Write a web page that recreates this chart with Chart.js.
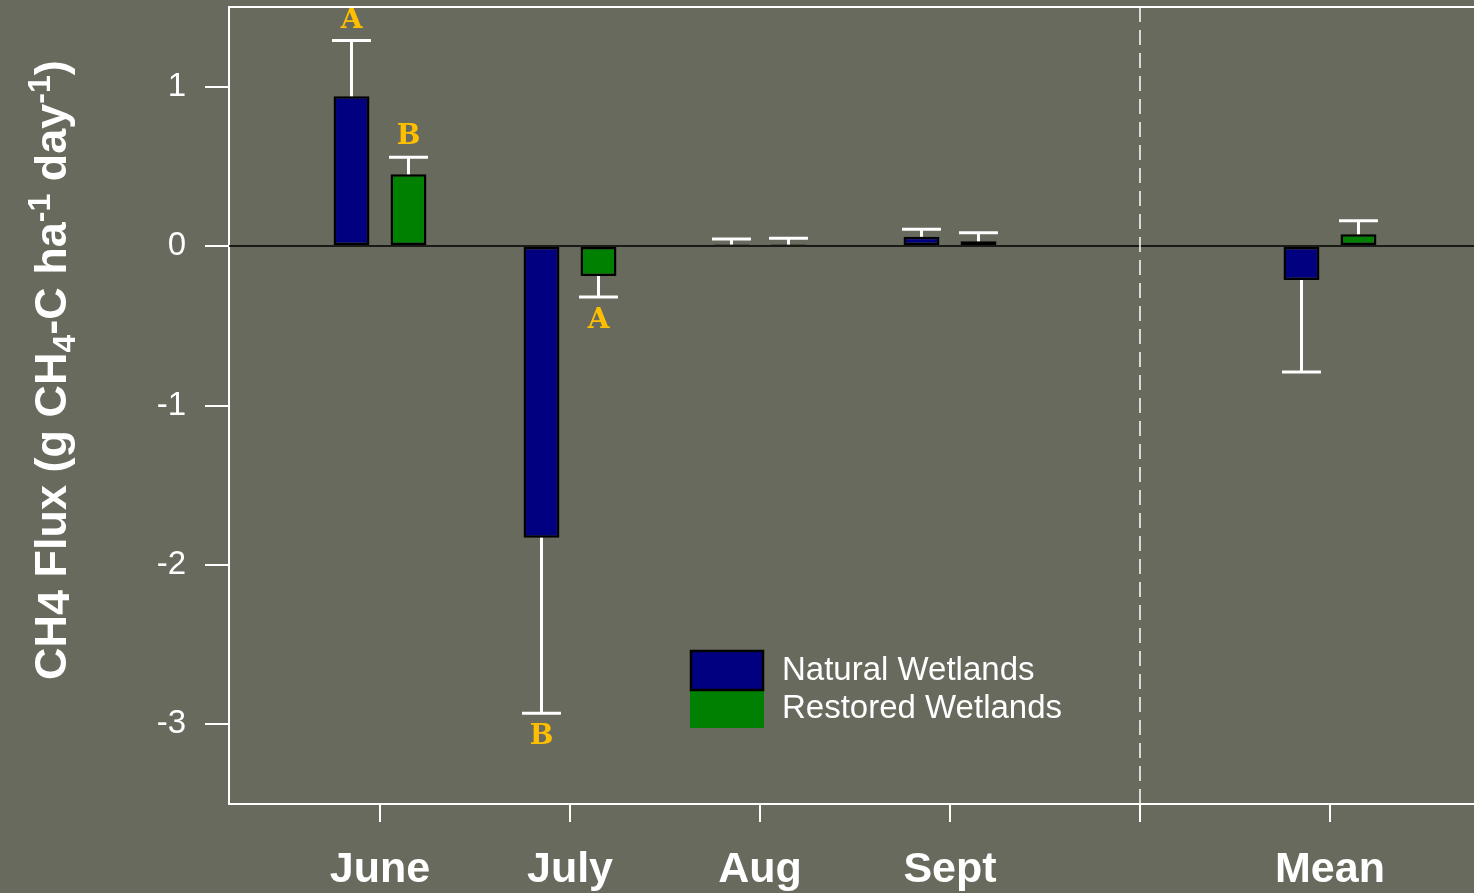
<!DOCTYPE html>
<html>
<head>
<meta charset="utf-8">
<script src="https://cdn.jsdelivr.net/npm/chart.js@4.4.1/dist/chart.umd.min.js"></script>
<style>
  html, body { margin: 0; padding: 0; background: #676a5c; overflow: hidden; }
  #wrap { width: 1474px; height: 893px; }
</style>
</head>
<body>
<div id="wrap"><canvas id="fluxchart" width="1474" height="893"></canvas></div>
<script>
// CH4 flux per month, natural vs restored wetlands
const categories = ['June', 'July', 'Aug', 'Sept', 'Mean'];
const catPositions = [1, 2, 3, 4, 6];   // slot 5 stays empty (dashed divider)
const naturalFlux = [0.94, -1.83, 0.01, 0.058, -0.213];
const naturalErr = [0.35, 1.10, 0.035, 0.047, 0.577];
const restoredFlux = [0.451, -0.188, 0.01, 0.031, 0.075];
const restoredErr = [0.107, 0.132, 0.04, 0.052, 0.084];
const naturalLetters = ['A', 'B', '', '', ''];
const restoredLetters = ['B', 'A', '', '', ''];
const yTicks = [-3, -2, -1, 0, 1];
const xTicks = [1, 2, 3, 4, 5, 6];

const NAVY = '#000080';
const GREEN = '#008000';
const GOLD = '#ffbf00';

function toPoints(vals) {
    return vals.map((v, i) => ({ x: catPositions[i], y: v }));
}

// whiskers go away from zero only, with a flat cap
const errorBars = {
    id: 'errorBars',
    beforeDatasetsDraw(chart) {
        const { ctx, chartArea, scales } = chart;
        const y0 = scales.y.getPixelForValue(0);
        ctx.save();
        ctx.strokeStyle = '#000';
        ctx.lineWidth = 1.5;
        ctx.beginPath();
        ctx.moveTo(chartArea.left, y0);
        ctx.lineTo(chartArea.right, y0);
        ctx.stroke();
        // dashed divider before the mean
        const xd = scales.x.getPixelForValue(5);
        ctx.strokeStyle = '#fff';
        ctx.setLineDash([15, 8]);
        ctx.beginPath();
        ctx.moveTo(xd, chartArea.top);
        ctx.lineTo(xd, chartArea.bottom);
        ctx.stroke();
        ctx.restore();
    },
    afterDatasetsDraw(chart) {
        const { ctx, scales } = chart;
        ctx.save();
        chart.data.datasets.forEach((ds, di) => {
            const meta = chart.getDatasetMeta(di);
            meta.data.forEach((bar, i) => {
                const v = ds.data[i].y;
                const sign = v < 0 ? -1 : 1;
                const yEnd = scales.y.getPixelForValue(v + sign * ds.errors[i]);
                const half = bar.width / 2 + 1.5;
                ctx.strokeStyle = '#fff';
                ctx.lineWidth = 3;
                ctx.beginPath();
                ctx.moveTo(bar.x, bar.y);
                ctx.lineTo(bar.x, yEnd);
                ctx.moveTo(bar.x - half, yEnd);
                ctx.lineTo(bar.x + half, yEnd);
                ctx.stroke();
                const letter = ds.letters[i];
                if (letter) {
                    ctx.fillStyle = GOLD;
                    ctx.font = 'bold 28px "DejaVu Serif", serif';
                    ctx.textAlign = 'center';
                    ctx.textBaseline = 'middle';
                    ctx.fillText(letter, bar.x, yEnd - sign * (sign > 0 ? 20 : 24));
                }
            });
        });
        ctx.restore();
    },
    afterDraw(chart) {
        const { ctx, chartArea } = chart;
        ctx.save();
        // top frame line
        ctx.strokeStyle = '#fff';
        ctx.lineWidth = 2;
        ctx.beginPath();
        ctx.moveTo(chartArea.left, chartArea.top);
        ctx.lineTo(chartArea.right, chartArea.top);
        ctx.stroke();

        // legend
        const lx = 690, ly = 650;
        const sets = chart.data.datasets;
        ctx.fillStyle = sets[1].backgroundColor;
        ctx.fillRect(lx, ly + 40, 74, 38);
        ctx.fillStyle = sets[0].backgroundColor;
        ctx.fillRect(lx, ly, 74, 40);
        ctx.strokeStyle = '#000';
        ctx.lineWidth = 2.5;
        ctx.strokeRect(lx + 1, ly + 1, 72, 39);
        ctx.fillStyle = '#fff';
        ctx.font = '33px "Liberation Sans", Arial, sans-serif';
        ctx.textAlign = 'left';
        ctx.textBaseline = 'middle';
        ctx.fillText(sets[0].label, 782, ly + 21);
        ctx.fillText(sets[1].label, 782, ly + 59);

        // y axis title with sub/superscripts
        const parts = [
            { t: 'CH', s: 1, dy: 0 },
            { t: '4', s: 1, dy: 3 },
            { t: ' Flux (g CH', s: 1, dy: 0 },
            { t: '4', s: 0.72, dy: 9 },
            { t: '-C ha', s: 1, dy: 0 },
            { t: '-1', s: 0.72, dy: -16 },
            { t: ' day', s: 1, dy: 0 },
            { t: '-1', s: 0.72, dy: -16 },
            { t: ')', s: 1, dy: 0 }
        ];
        const fs = 45;
        ctx.translate(66, 680);
        ctx.rotate(-Math.PI / 2);
        ctx.textBaseline = 'alphabetic';
        let x = 0;
        parts.forEach(p => {
            ctx.font = 'bold ' + Math.round(fs * p.s) + 'px "Liberation Sans", Arial, sans-serif';
            ctx.fillText(p.t, x, p.dy);
            x += ctx.measureText(p.t).width;
        });
        ctx.restore();
    }
};

const ctx = document.getElementById('fluxchart').getContext('2d');

const fluxchart = new Chart(ctx, {
    type: 'bar',
    data: {
        datasets: [{
            label: 'Natural Wetlands',
            data: toPoints(naturalFlux),
            errors: naturalErr,
            letters: naturalLetters,
            backgroundColor: NAVY,
            borderColor: '#000',
            borderWidth: 2.5,
            borderSkipped: false
        }, {
            label: 'Restored Wetlands',
            data: toPoints(restoredFlux),
            errors: restoredErr,
            letters: restoredLetters,
            backgroundColor: GREEN,
            borderColor: '#000',
            borderWidth: 2.5,
            borderSkipped: false
        }]
    },
    options: {
        responsive: false,
        maintainAspectRatio: false,
        animation: false,
        categoryPercentage: 0.6,
        barPercentage: 0.63,
        layout: { padding: { top: 7, left: 0, right: 0, bottom: 0 } },
        plugins: {
            legend: { display: false },
            tooltip: { enabled: false }
        },
        scales: {
            x: {
                type: 'linear',
                min: 0.2053,
                max: 6.758,
                offset: false,
                afterBuildTicks: s => { s.ticks = xTicks.map(v => ({ value: v })); },
                afterFit: s => {
                    s.height = 89;
                    s.paddingLeft = 0;
                    s.paddingRight = 0;
                },
                grid: {
                    offset: false,
                    drawOnChartArea: false,
                    drawTicks: true,
                    tickLength: 18,
                    color: '#fff',
                    lineWidth: 2
                },
                border: { color: '#fff', width: 2 },
                ticks: {
                    color: '#fff',
                    padding: 22,
                    maxRotation: 0,
                    autoSkip: false,
                    font: { family: '"Liberation Sans", Arial, sans-serif', size: 43, weight: 'bold' },
                    callback: v => {
                        const i = catPositions.indexOf(v);
                        return i >= 0 ? categories[i] : '';
                    }
                }
            },
            y: {
                min: -3.5,
                max: 1.5,
                afterBuildTicks: s => { s.ticks = yTicks.map(v => ({ value: v })); },
                afterFit: s => {
                    s.width = 229;
                    s.paddingTop = 0;
                    s.paddingBottom = 0;
                },
                grid: {
                    drawOnChartArea: false,
                    drawTicks: true,
                    tickLength: 24,
                    color: '#fff',
                    lineWidth: 2
                },
                border: { color: '#fff', width: 2 },
                ticks: {
                    color: '#fff',
                    padding: 19,
                    font: { family: '"Liberation Sans", Arial, sans-serif', size: 33 }
                }
            }
        }
    },
    plugins: [errorBars]
});
</script>
</body>
</html>
